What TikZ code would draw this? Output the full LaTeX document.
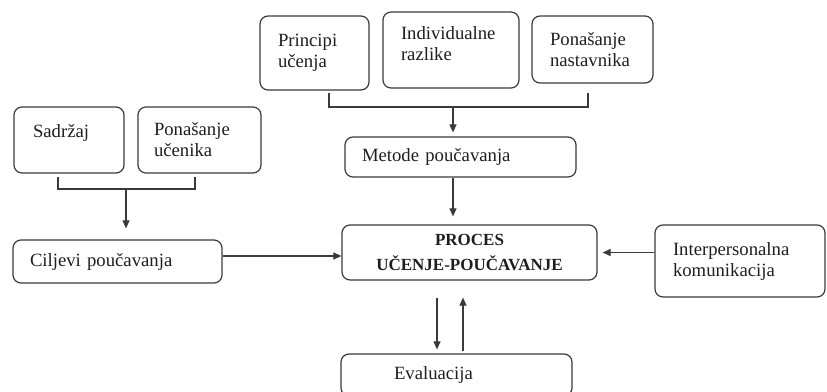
\documentclass[tikz,border=0pt]{standalone}
\usepackage{fontspec}
\setmainfont{Liberation Serif}
\usetikzlibrary{arrows.meta,calc}
\definecolor{linec}{HTML}{3A3A3A}
\definecolor{textc}{HTML}{1E1E1E}

\begin{document}
\begin{tikzpicture}[x=1pt,y=-1pt,
   box/.style={draw=linec, line width=1.2pt, rounded corners=8pt, align=left,
      inner ysep=2pt, text=textc, font=\fontsize{18.7}{21}\selectfont},
   mainbox/.style={box, align=center, font=\fontsize{17}{25}\selectfont\bfseries},
   arr/.style={draw=linec, line width=1.1pt, -{Triangle[length=8pt,width=7pt]}},
   brk/.style={draw=linec, line width=1.1pt}]
   \useasboundingbox (0,0) rectangle (827,391);
   \clip (0,0) rectangle (827,391);

   % top row
   \node[box, minimum width=109pt, minimum height=74pt, inner xsep=18pt, text width=73pt] (princ) at (314.5,53) {Principi\\u\v{c}enja};
   \node[box, minimum width=136pt, minimum height=76pt, inner xsep=18pt, text width=100pt, text depth=33pt] (indiv) at (451,50) {Individualne\\razlike};
   \node[box, minimum width=121pt, minimum height=67pt, inner xsep=18pt, text width=85pt] (ponnast) at (592.5,49.5) {Pona\v{s}anje\\nastavnika};
   \node[box, minimum width=231pt, minimum height=40pt, inner xsep=17pt, text width=197pt] (metode) at (460.5,157) {Metode pou\v{c}avanja};

   % left side
   \node[box, minimum width=110pt, minimum height=66pt, inner xsep=19pt, text width=72pt, text depth=19pt] (sadr) at (69,140) {Sadr\v{z}aj};
   \node[box, minimum width=123pt, minimum height=66pt, inner xsep=16pt, text width=91pt] (ponuc) at (199.5,140) {Pona\v{s}anje\\u\v{c}enika};
   \node[box, minimum width=209pt, minimum height=43pt, inner xsep=17pt, text width=175pt] (ciljevi) at (117.5,261.5) {Ciljevi pou\v{c}avanja};

   % centre and right
   \node[mainbox, minimum width=255pt, minimum height=55pt, text width=235pt] (proces) at (469.5,252.5) {PROCES\\U\v{C}ENJE-POU\v{C}AVANJE};
   \node[box, minimum width=170pt, minimum height=72pt, inner xsep=18pt, text width=134pt] (interp) at (740,261) {Interpersonalna\\komunikacija};
   \node[box, minimum width=231pt, minimum height=42pt, inner xsep=53pt, text width=125pt] (eval) at (456.5,375) {Evaluacija};

   % brackets
   \coordinate (tbl) at (329,93);
   \coordinate (tbr) at (588,93);
   \coordinate (tbm) at (453,107);
   \draw[brk] (tbl) |- (tbm) -| (tbr);
   \coordinate (lbl) at (58,177);
   \coordinate (lbr) at (195,177);
   \coordinate (lbm) at (126,189);
   \draw[brk] (lbl) |- (lbm) -| (lbr);

   % arrows
   \draw[arr, shorten >=4pt] (tbm) -- (tbm |- metode.north);
   \draw[arr, shorten >=8pt] (metode.south -| tbm) -- (proces.north -| tbm);
   \draw[arr, shorten >=11pt] (lbm) -- (lbm |- ciljevi.north);
   \draw[arr] ([yshift=5.5pt]ciljevi.east) -- ([yshift=5.5pt]ciljevi.east -| proces.west);
   \draw[arr, shorten >=5pt] (interp.west |- proces.east) -- (proces.east);
   \draw[arr, shorten <=17pt, shorten >=4pt] ([xshift=-32.5pt]proces.south) -- ([xshift=-32.5pt]proces.south |- eval.north);
   \draw[arr, shorten <=2pt, shorten >=17pt] ([xshift=-6.5pt]proces.south |- eval.north) -- ([xshift=-6.5pt]proces.south);
\end{tikzpicture}
\end{document}
